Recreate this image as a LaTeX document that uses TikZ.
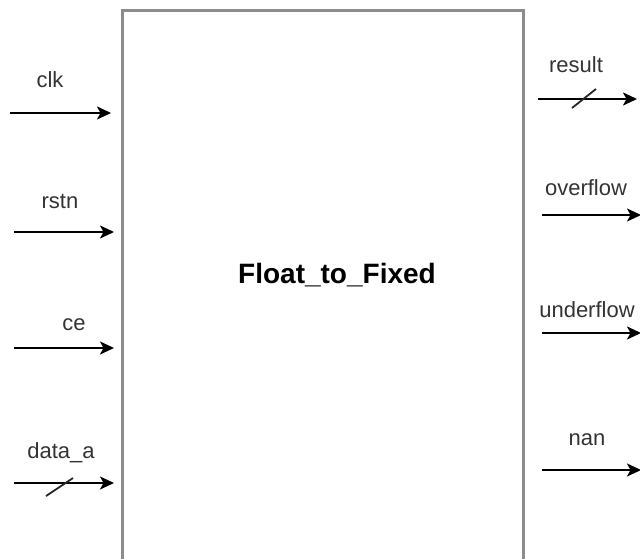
\documentclass[tikz,border=0pt]{standalone}
\usepackage{fontspec}
\setmainfont{Liberation Sans}
\usetikzlibrary{arrows.meta}
\begin{document}
\begin{tikzpicture}[x=1pt,y=-1pt,
  sig/.style={line width=2pt,-{Stealth[length=14pt,width=13pt,inset=3.5pt]}},
  lbl/.style={font=\fontsize{22}{26}\selectfont,inner sep=0pt,anchor=base,text=black!80},
  bus/.style={line width=1.8pt,black!85}]
\useasboundingbox (0,0) rectangle (640,559);
\clip (0,0) rectangle (640,559);
\node[draw=black!45,line width=2.6pt,minimum width=401pt,minimum height=580pt,anchor=north west,inner sep=0pt] (blk) at (121,9) {};
\node[font=\bfseries\fontsize{28}{32}\selectfont,anchor=base,inner sep=0pt] (title) at (337,283) {Float\_to\_Fixed};
% inputs
\coordinate (clk0) at (10,113);  \coordinate (clk1) at (111,113);
\coordinate (rst0) at (14,232);  \coordinate (rst1) at (114,232);
\coordinate (ce0) at (14,348);   \coordinate (ce1) at (114,348);
\coordinate (da0) at (14,483);   \coordinate (da1) at (114,483);
\draw[sig] (clk0) -- (clk1);
\draw[sig] (rst0) -- (rst1);
\draw[sig] (ce0) -- (ce1);
\draw[sig] (da0) -- (da1);
\coordinate (das0) at (46,496); \coordinate (das1) at (73,478);
\draw[bus] (das0) -- (das1);
\node[lbl] (lclk) at (50,88) {clk};
\node[lbl] (lrst) at (60,208) {rstn};
\node[lbl] (lce) at (74,330) {ce};
\node[lbl] (lda) at (61,458) {data\_a};
% outputs
\coordinate (res0) at (538,99);  \coordinate (res1) at (637,99);
\coordinate (ov0) at (542,215);  \coordinate (ov1) at (641,215);
\coordinate (un0) at (542,333);  \coordinate (un1) at (641,333);
\coordinate (nan0) at (542,470); \coordinate (nan1) at (641,470);
\draw[sig] (res0) -- (res1);
\draw[sig] (ov0) -- (ov1);
\draw[sig] (un0) -- (un1);
\draw[sig] (nan0) -- (nan1);
\coordinate (ress0) at (572,108); \coordinate (ress1) at (596,89);
\draw[bus] (ress0) -- (ress1);
\node[lbl] (lres) at (576,73) {result};
\node[lbl] (lov) at (586,195) {overflow};
\node[lbl] (lun) at (587,317) {underflow};
\node[lbl] (lnan) at (587,445) {nan};
\end{tikzpicture}
\end{document}
